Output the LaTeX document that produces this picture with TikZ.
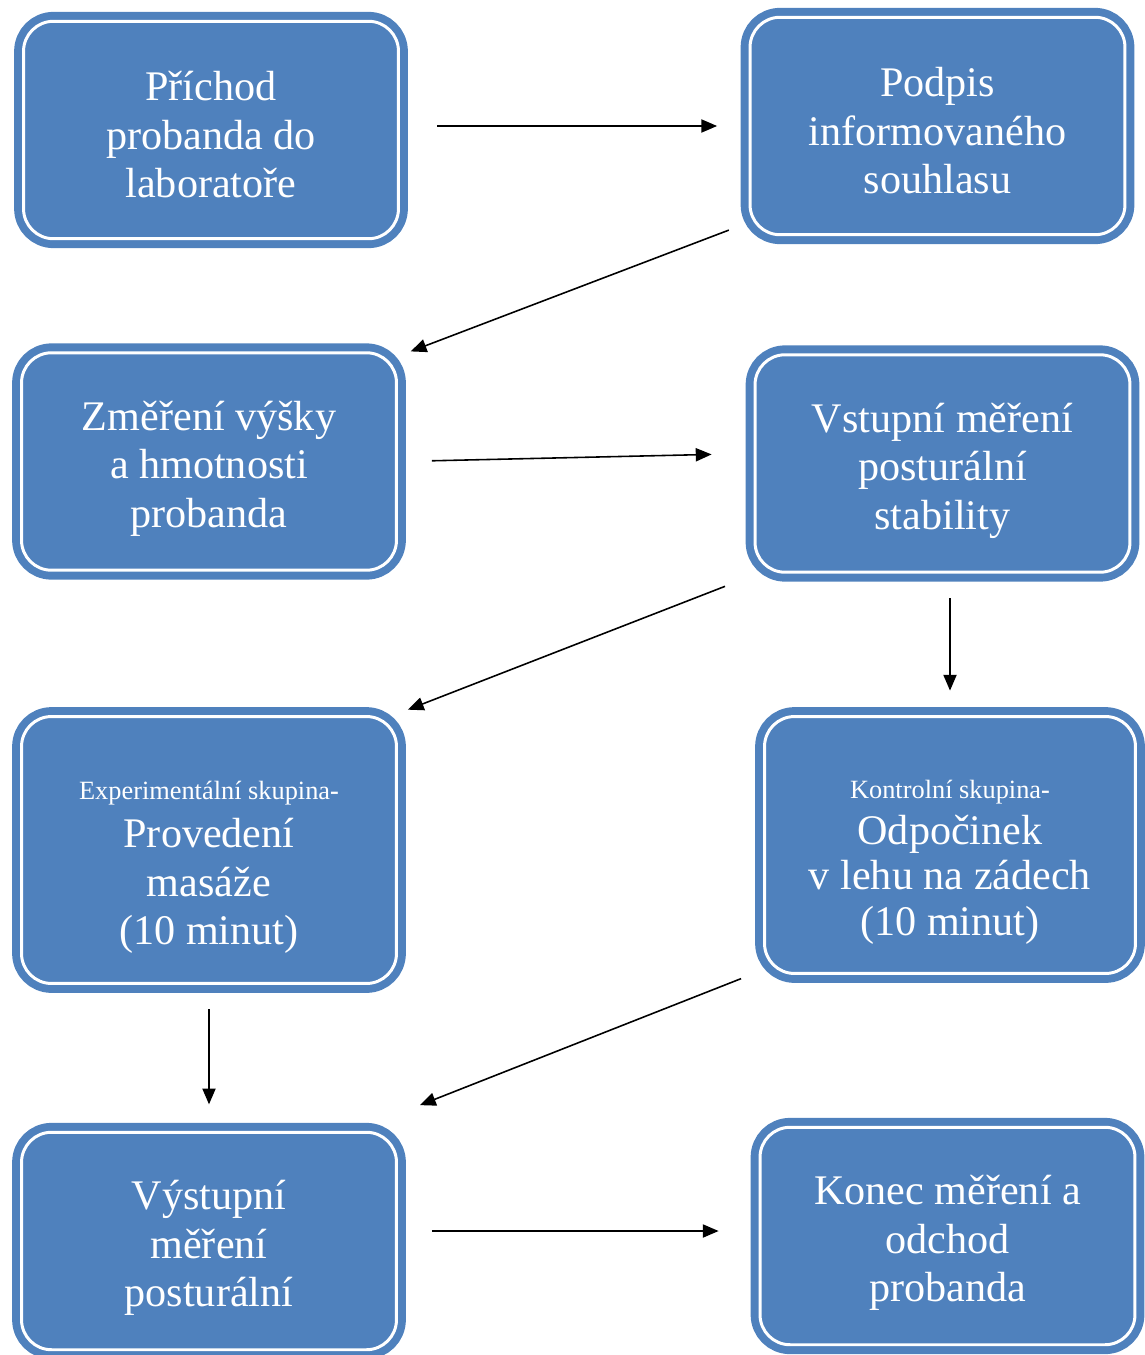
\documentclass[tikz,border=0pt]{standalone}
\usepackage{fontspec}
\setmainfont{Liberation Serif}
\usepackage{tikz}
\usetikzlibrary{arrows.meta}
\definecolor{boxblue}{HTML}{4F81BD}

\begin{document}
\begin{tikzpicture}[x=0.02cm, y=-0.02cm,
    box/.style={draw=boxblue, double=white, double distance=1.7pt, line width=4.5pt, fill=boxblue,
      rounded corners=0.6cm, minimum width=7.5cm, minimum height=4.35cm, inner sep=0pt,
      align=center, text=white, font=\fontsize{24}{27.6}\selectfont},
    arr/.style={draw, line width=0.9pt, -{Triangle[length=9pt, width=7.5pt]}}]
    \useasboundingbox (0,0) rectangle (1145,1355);

    \node[box] (prichod) at (211,130) {\rule{0pt}{22pt}Příchod\\ probanda do\\ laboratoře};
    \node[box] (podpis) at (937.5,126) {\rule{0pt}{22pt}Podpis\\ informovaného\\ souhlasu};
    \node[box] (zmereni) at (209,461.5) {\rule{0pt}{25pt}Změření výšky\\ a hmotnosti\\ probanda};
    \node[box] (vstupni) at (942.5,463.5) {\rule{0pt}{25pt}Vstupní měření\\ posturální\\ stability};
    \node[box, minimum height=5.34cm] (experiment) at (209,850)
      {\rule{0pt}{30pt}{\fontsize{15}{18}\selectfont Experimentální skupina\textbf{-}}\\ Provedení\\ masáže\\ (10 minut)};
    \node[box, minimum width=7.42cm, minimum height=5.14cm, font=\fontsize{24}{25.9}\selectfont] (kontrola) at (950,845)
      {\rule{0pt}{30pt}{\fontsize{15}{18}\selectfont Kontrolní skupina\textbf{-}}\\ Odpočinek\\ v lehu na zádech\\ (10 minut)};
    \node[box] (vystupni) at (209,1241) {\rule{0pt}{25pt}Výstupní\\ měření\\ posturální};
    \node[box] (konec) at (947.5,1236) {\rule{0pt}{25pt}Konec měření a\\ odchod\\ probanda};

    \draw[arr, shorten <=0.7cm, shorten >=0.58cm] (podpis.west -| prichod.east) -- (podpis.west);
    \draw[arr, shorten <=0.37cm, shorten >=0.22cm] (podpis.207.6) -- ([yshift=-0.13cm]zmereni.north east);
    \draw[arr, shorten <=0.63cm, shorten >=0.79cm] (zmereni.east) -- ([yshift=0.2cm]vstupni.west);
    \draw[arr, shorten <=0.56cm, shorten >=0.16cm] (vstupni.south west) -- (experiment.north east);
    \draw[arr, shorten <=0.44cm, shorten >=0.44cm] (kontrola.north |- vstupni.south) -- (kontrola.north);
    \draw[arr, shorten <=0.44cm, shorten >=0.48cm] (experiment.south) -- (vystupni.north);
    \draw[arr, shorten <=0.42cm, shorten >=0.42cm] ([yshift=0.13cm]kontrola.south west) -- ([yshift=0.31cm]vystupni.north east);
    \draw[arr, shorten <=0.63cm, shorten >=0.75cm] ([yshift=0.1cm]vystupni.east |- konec.west) -- ([yshift=0.1cm]konec.west);
  \end{tikzpicture}
\end{document}
